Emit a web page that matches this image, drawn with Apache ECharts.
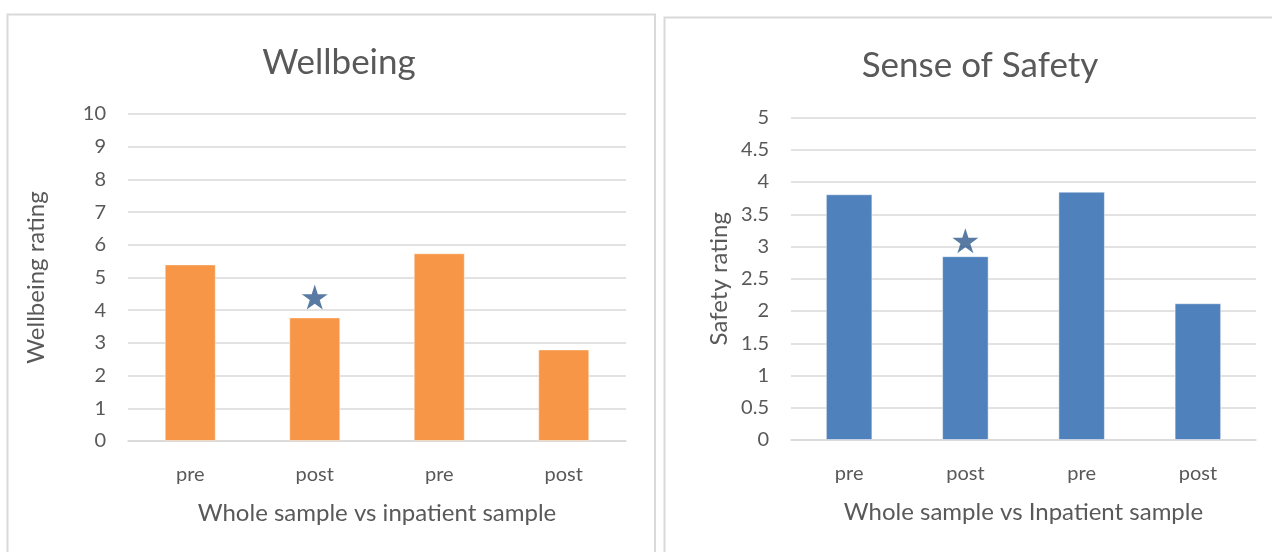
<!DOCTYPE html>
<html>
<head>
<meta charset="utf-8">
<script src="https://cdn.jsdelivr.net/npm/echarts@6/dist/echarts.min.js"></script>
<style>
html,body{margin:0;padding:0;background:#fff;}
#main{width:1272px;height:552px;}
</style>
</head>
<body>
<div id="main"></div>
<script>
// ---- data ----
var categories = ['pre', 'post', 'pre', 'post'];
var wellbeingValues = [5.4, 3.78, 5.74, 2.8];
var safetyValues = [3.81, 2.85, 3.85, 2.12];
var starIndex = 1;               // category index carrying the significance star
var wellbeingStarValue = 4.4;
var safetyStarValue = 3.09;
var wellbeingTicks = { min: 0, max: 10, interval: 1 };
var safetyTicks = { min: 0, max: 5, interval: 0.5 };
var titles = ['Wellbeing', 'Sense of Safety'];
var xNames = ['Whole sample vs inpatient sample', 'Whole sample vs Inpatient sample'];
var yNames = ['Wellbeing rating', 'Safety rating'];

var FONT = 'Lato, "Open Sans", sans-serif';
var TXT = '#595959';
var GRID = '#D9D9D9';
var STAR = 'path://M12,0 L14.8,8.6 L23.8,8.6 L16.5,13.9 L19.3,22.5 L12,17.2 L4.7,22.5 L7.5,13.9 L0.2,8.6 L9.2,8.6 Z';

function xAxis(idx) {
  return {
    type: 'category', gridIndex: idx, data: categories,
    axisLine: { show: true, lineStyle: { color: GRID, width: 1.5 } },
    axisTick: { show: false },
    axisLabel: { color: TXT, fontSize: 20, fontFamily: FONT, margin: 24 },
    name: xNames[idx], nameLocation: 'middle', nameGap: 60,
    nameTextStyle: { color: TXT, fontSize: 24, fontFamily: FONT }
  };
}
function yAxis(idx, t, gap) {
  return {
    type: 'value', gridIndex: idx, min: t.min, max: t.max, interval: t.interval,
    axisLine: { show: false }, axisTick: { show: false },
    splitLine: { lineStyle: { color: GRID, width: 1.5 } },
    axisLabel: { color: TXT, fontSize: 20, fontFamily: FONT, margin: 22 },
    name: yNames[idx], nameLocation: 'middle', nameGap: gap,
    nameTextStyle: { color: TXT, fontSize: 24, fontFamily: FONT }
  };
}

var chart = echarts.init(document.getElementById('main'), null, { renderer: 'canvas' });
chart.setOption({
  backgroundColor: '#fff',
  animation: false,
  title: [
    { text: titles[0], left: 334, top: 40, textAlign: 'center',
      textStyle: { color: TXT, fontSize: 35, fontWeight: 'normal', fontFamily: FONT } },
    { text: titles[1], left: 975, top: 43, textAlign: 'center',
      textStyle: { color: TXT, fontSize: 35, fontWeight: 'normal', fontFamily: FONT } }
  ],
  graphic: [
    { type: 'rect', shape: { x: 7.5, y: 14.5, width: 647.5, height: 560 },
      style: { fill: 'none', stroke: GRID, lineWidth: 2 }, silent: true, z: -1 },
    { type: 'rect', shape: { x: 664.5, y: 17.5, width: 640, height: 560 },
      style: { fill: 'none', stroke: GRID, lineWidth: 2 }, silent: true, z: -1 }
  ],
  grid: [
    { left: 128, right: 646, top: 114, bottom: 111 },
    { left: 791, right: 16, top: 117.5, bottom: 112 }
  ],
  xAxis: [xAxis(0), xAxis(1)],
  yAxis: [yAxis(0, wellbeingTicks, 80), yAxis(1, safetyTicks, 60)],
  series: [
    { type: 'bar', xAxisIndex: 0, yAxisIndex: 0, data: wellbeingValues, barWidth: '41%',
      itemStyle: { color: '#F79646', borderColor: 'rgba(255,255,255,0.45)', borderWidth: 1 } },
    { type: 'scatter', xAxisIndex: 0, yAxisIndex: 0, data: [[starIndex, wellbeingStarValue]],
      symbol: STAR, symbolSize: [26, 25], itemStyle: { color: '#2F5A8C' }, z: 5 },
    { type: 'bar', xAxisIndex: 1, yAxisIndex: 1, data: safetyValues, barWidth: '40%',
      itemStyle: { color: '#4F81BD', borderColor: 'rgba(255,255,255,0.45)', borderWidth: 1 } },
    { type: 'scatter', xAxisIndex: 1, yAxisIndex: 1, data: [[starIndex, safetyStarValue]],
      symbol: STAR, symbolSize: [26, 25], itemStyle: { color: '#2F5A8C' }, z: 5 }
  ]
});
</script>
</body>
</html>
